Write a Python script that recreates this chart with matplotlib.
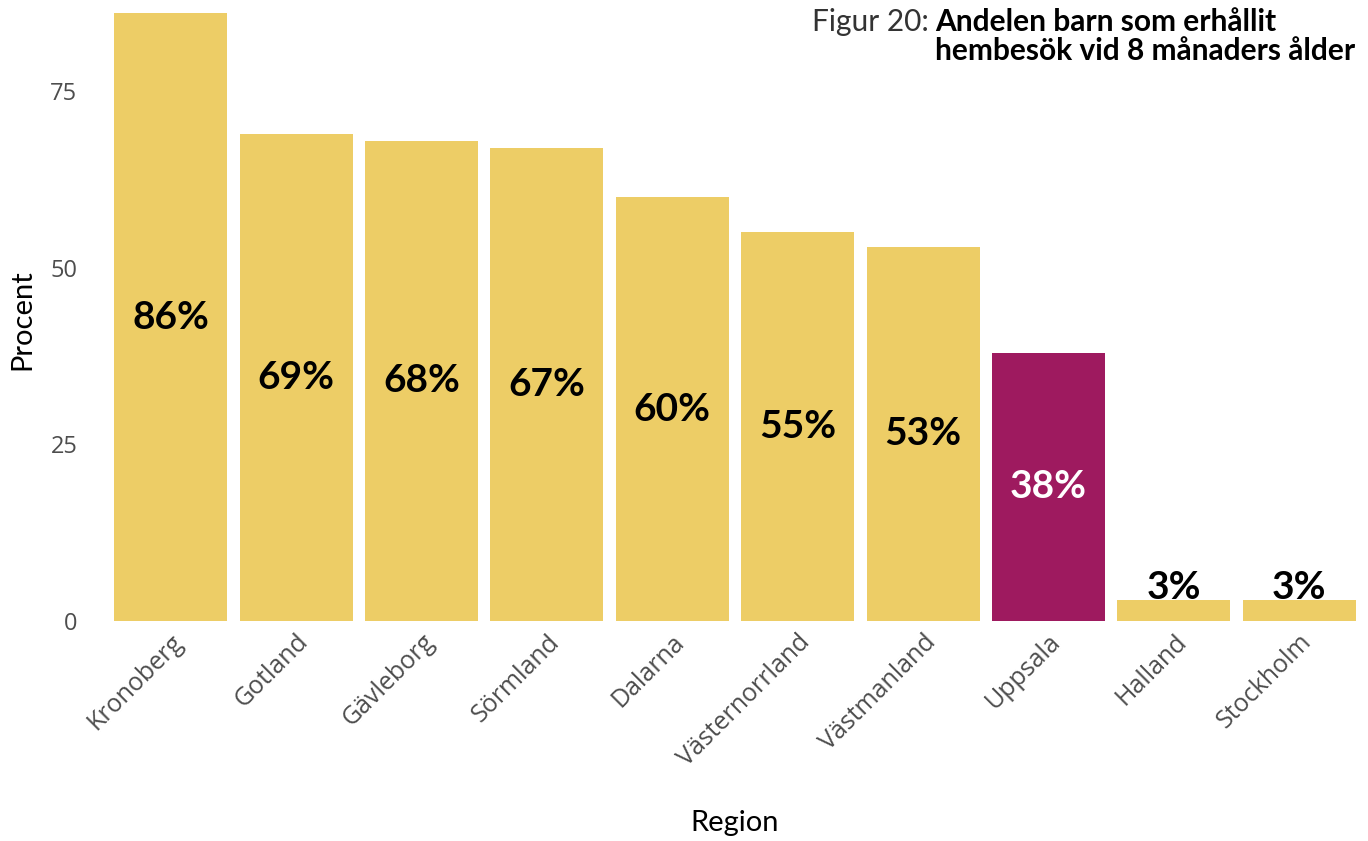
import matplotlib
matplotlib.use("Agg")
import matplotlib.pyplot as plt

regions = ["Kronoberg", "Gotland", "Gävleborg", "Sörmland", "Dalarna",
           "Västernorrland", "Västmanland", "Uppsala", "Halland", "Stockholm"]
values = [86, 69, 68, 67, 60, 55, 53, 38, 3, 3]
highlight = "Uppsala"
yticks = [0, 25, 50, 75]

YELLOW = "#EDCD66"
PURPLE = "#9E1A5F"
TICK_GREY = "#4D4D4D"

fig = plt.figure(figsize=(13.68, 8.41), dpi=100)
W, H = 1368, 841
# axes box in pixels: left 108, right 1362, bottom y=621, top y=0
ax = fig.add_axes([108 / W, (H - 621) / H, (1362 - 108) / W, 621 / H])

colors = [PURPLE if r == highlight else YELLOW for r in regions]
x = list(range(len(regions)))
ax.bar(x, values, width=0.9, color=colors, linewidth=0)

for xi, v, r in zip(x, values, regions):
    if v > 10:
        ypos, col = v / 2, ("white" if r == highlight else "black")
    else:
        ypos, col = v + 1.8, "black"
    ax.text(xi, ypos, f"{v}%", ha="center", va="center", fontsize=28,
            fontweight="bold", family="Lato", color=col)

ax.set_xlim(-0.5, len(regions) - 0.5)
ax.set_ylim(0, 87.9)
ax.set_yticks(yticks)
ax.set_yticklabels([str(t) for t in yticks], fontsize=17, family="Open Sans",
                   color=TICK_GREY)
ax.set_xticks(x)
ax.set_xticklabels(regions, rotation=45, ha="right", rotation_mode="anchor",
                   fontsize=18, family="Open Sans", color=TICK_GREY)
ax.tick_params(length=0, axis="y", pad=22)
ax.tick_params(length=0, axis="x", pad=6)
for lbl in ax.get_xticklabels():
    lbl.set_x(lbl.get_position()[0])
for s in ax.spines.values():
    s.set_visible(False)

ax.set_xlabel("Region", fontsize=21, family="Lato", labelpad=28)
fig.text(22 / W, 1 - 320 / H, "Procent", rotation=90, fontsize=21,
         family="Lato", ha="center", va="center")

# title: light prefix + bold two-line block
fig.text(935 / W, 1 - 8 / H, "Andelen barn som erhållit\nhembesök vid 8 månaders ålder",
         ha="left", va="top", fontsize=21.5, fontweight="bold", family="Lato",
         linespacing=1.05)
fig.text(929 / W, 1 - 8 / H, "Figur 20:", ha="right", va="top", fontsize=21.5,
         fontweight="normal", family="Lato", color="#333333")

fig.savefig("out.png", dpi=100, facecolor="white")
